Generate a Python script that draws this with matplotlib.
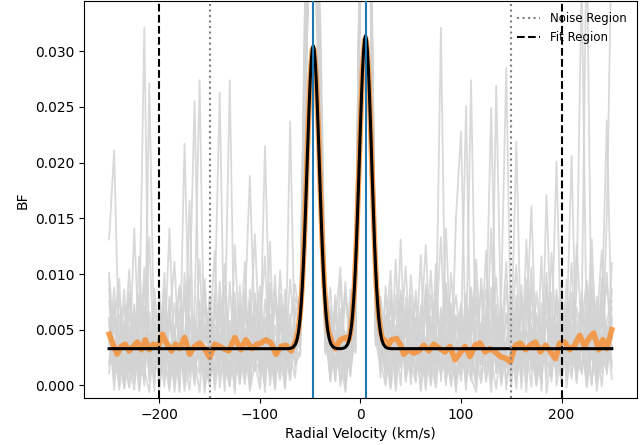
import numpy as np
import matplotlib
matplotlib.use("Agg")
import matplotlib.pyplot as plt

# velocity grid of the individual broadening functions (km/s)
gray_v = np.arange(-250, 251, 5)

# individual BFs, in units of 1e-4
gray_rows = [
    [131, 211, 26, -1, 53, 8, 81, 15, -6, 42, 19, 66, 3, 35, -3, 101, 24, 10, 49, -7,
     38, 6, 73, 17, 0, 57, 29, 111, -5, 20, 46, 2, 64, 12, 31, -2, 237, 21, 55, 301,
     411, 441, 221, 51, 9, 76, 18, -4, 40, 63, 421, 461, 391, 57, 22, 0, 86, 13, 131, 5,
     27, 61, -5, 43, 16, 109, 4, 52, -1, 34, 18, 79, 7, -6, 48, 25, 141, 11, 62, 2,
     36, -3, 90, 21, 55, 9, 116, -7, 30, 71, 14, 49, 206, 5, 38, 0, 67, 24, 96, 10, 51],
    [61, 3, 37, 86, 19, -4, 52, 321, 8, 75, 0, 29, 141, 13, 48, 5, 62, 22, -6, 57,
     16, 83, -2, 40, 9, 126, 32, 1, 59, 20, -3, 45, 24, 99, 6, 68, 14, 34, 26, 251,
     451, 391, 291, 79, 3, 50, 27, 93, 15, 46, 381, 491, 431, 81, 33, 11, 58, -5, 44, 107,
     19, 4, 72, 28, 0, 39, 321, 12, 65, 7, 51, -4, 88, 23, 37, 121, 2, 60, 17, 31,
     -1, 77, 10, 49, 26, 63, -5, 101, 21, 42, 6, 54, 18, 87, 371, 35, 1, 73, 28, 13, 86],
    [21, 69, -4, 32, 104, 11, 47, 0, 271, 28, 53, 7, 80, -6, 39, 18, 166, 4, 61, 26,
     2, 48, 15, 89, 31, -3, 74, 10, 43, 136, 27, -1, 56, 19, 82, 36, 5, 63, 81, 321,
     381, 461, 191, 31, 67, 4, 95, 29, 13, 86, 451, 411, 361, 39, 66, 24, -2, 113, 19, 51,
     8, 85, 33, -4, 57, 14, 70, 27, 2, 151, 228, 21, 45, 79, 5, 38, -6, 64, 30, 90,
     16, 52, 3, 131, 35, 0, 74, 22, 47, 9, 91, -2, 39, 17, 61, 411, 26, 4, 82, 33, 21],
    [46, 9, 83, 22, -2, 59, 15, 106, 31, 3, 68, 26, -5, 49, 12, 217, 37, 0, 76, 21,
     43, 121, 7, 29, 54, -7, 90, 18, 39, 62, 5, 77, 33, -4, 58, 20, 95, 42, 36, 241,
     431, 411, 251, 61, 25, 81, -1, 48, 10, 51, 401, 441, 451, 76, 14, 47, 103, 6, 61, 23,
     81, 32, -3, 91, 20, 54, 8, 141, 29, -2, 46, 251, 15, 72, 34, 3, 59, 97, 21, 40,
     65, 12, 48, -6, 87, 28, 53, 7, 119, 35, 2, 74, 23, 58, 10, 46, 131, 17, 65, 238, 41],
    [101, 35, 0, 58, 14, 141, 27, 71, 4, 49, 17, 86, 32, -2, 53, 10, 79, 255, 23, 39,
     61, -4, 30, 109, 15, 46, 1, 67, 25, 83, 34, 11, 129, 3, 49, 72, 18, 55, 51, 361,
     471, 371, 211, 41, 88, 15, 52, 6, 74, 31, 471, 431, 371, 43, 76, 2, 38, 20, 85, 9,
     54, 26, 117, -1, 62, 35, 13, 91, 44, -6, 70, 32, 274, 8, 51, 86, 24, -3, 39, 111,
     5, 61, 29, 82, 15, 49, 1, 171, 33, 57, 22, 95, 9, 43, 77, -2, 35, 64, 16, 151, 411],
    [11, 54, 96, 5, 30, 73, -4, 38, 16, 87, 34, -1, 57, 111, 21, 42, 8, 65, 274, 2,
     80, 27, 48, -5, 93, 19, 37, 6, 74, 29, 51, 116, 0, 39, 13, 86, 28, 7, 71, 271,
     401, 451, 331, 86, 46, 4, 69, 33, 41, 56, 361, 471, 411, 91, 31, 64, 17, 46, 0, 79,
     35, 10, 53, 126, 22, -2, 48, 75, 14, 61, 27, 83, 4, 40, 19, 57, 249, 31, 72, -4,
     49, 108, 18, 33, -1, 65, 30, 87, 9, 43, 77, 13, 51, 2, 84, 27, 58, -5, 36, 101, 16],
    [76, 21, 43, -2, 65, 31, 9, 90, 24, 53, -4, 48, 15, 74, 36, 1, 60, 29, 113, 11,
     27, 69, 263, 6, 41, 83, 12, 34, -3, 55, 89, 23, 46, 8, 103, 31, 64, 17, 31, 231,
     441, 421, 201, 56, 19, 58, 106, -6, 63, 36, 441, 451, 381, 49, 61, 29, 5, 81, 38, 16,
     99, 46, 20, 67, 3, 88, 31, 9, 56, 22, 74, 0, 39, 113, 28, 61, 6, 269, 45, 17,
     32, 81, -3, 54, 161, 19, 41, 72, 3, 86, 49, 26, 110, 11, 33, 66, 0, 53, 121, 24, 61],
    [36, 88, 7, 49, -1, 24, 116, 12, 57, -5, 83, 18, 39, 2, 70, 27, -4, 51, 34, 96,
     9, 55, 24, 41, 274, 3, 61, 20, 86, 13, 66, -6, 92, 28, 17, 50, 5, 79, 66, 281,
     391, 481, 271, 36, 71, 22, 41, 13, 86, 29, 411, 481, 441, 63, 7, 89, 25, 54, 16, 68,
     1, 57, 33, 86, 11, 46, 133, 24, 72, 37, 10, 63, 28, -1, 96, 35, 51, 16, 81, 285,
     21, 44, 67, 13, 106, 0, 34, 59, 26, 79, 53, 4, 72, 31, 15, 91, 43, 8, 60, 27, 36],
    [56, -4, 64, 19, 40, 3, 78, 27, 133, 10, 29, 101, -2, 43, 87, 16, 32, 6, 55, 22,
     0, 36, 79, 12, 51, 25, 3, 68, 188, 39, 17, 61, 10, 84, 36, -3, 49, 29, 41, 261,
     461, 401, 231, 71, 5, 43, 21, 79, 52, 101, 391, 421, 401, 36, 49, 18, 76, 1, 35, 54,
     69, 15, 42, 7, 81, 28, 52, 0, 101, 43, 16, 38, 69, 24, 2, 50, 88, 31, 9, 63,
     39, 219, 21, 96, 46, 6, 61, 18, 83, 0, 31, 67, 19, 126, 46, 11, 86, 35, -1, 58, 76],
    [86, 17, 51, 4, 79, 38, -5, 62, 21, 47, 7, 74, 26, 53, -6, 88, 14, 46, 31, 69,
     41, 12, 93, 30, -1, 63, 19, 52, 8, 76, 24, 215, 38, 3, 71, 15, 57, 91, 56, 351,
     421, 441, 311, 46, 13, 66, 31, 0, 51, 91, 431, 461, 351, 101, 56, 21, 43, 9, 71, 30,
     46, 76, 12, 35, 103, 17, 61, 3, 49, 81, 32, 7, 57, 94, 19, 71, 26, 48, 0, 37,
     61, 25, 79, 3, 52, 37, 14, 91, 42, 201, 18, 49, 83, 5, 63, 29, 109, 40, 11, 54, 6],
    [96, 12, 44, -3, 27, 68, 5, 39, 18, 57, 2, 33, 71, 10, 48, -5, 25, 62, 14, 41,
     77, 6, 30, 52, 1, 44, 19, 86, 8, 35, 58, 16, 40, -2, 69, 28, 11, 47, 36, 290,
     441, 461, 261, 44, 7, 38, 64, 18, 29, 72, 421, 471, 411, 54, 25, 62, -3, 37, 81, 12,
     45, 3, 66, 21, 39, 8, 55, 30, 74, -1, 28, 59, 14, 42, 87, 6, 33, 50, 19, 65,
     9, 38, 73, 16, 47, 24, 3, 60, 36, 12, 53, 29, 6, 70, 41, 17, 88, 2, 46, 31, 70],
    [40, 74, 8, 55, 33, 2, 81, 26, 47, 14, 63, 20, 4, 45, 90, 31, 12, 56, 37, -2,
     24, 67, 41, 9, 58, 16, 72, 34, 3, 50, 13, 42, 85, 26, 5, 61, 38, 20, 29, 330,
     471, 431, 241, 33, 52, 11, 27, 83, 40, 58, 391, 481, 421, 72, 47, 14, 36, 69, 22, 54,
     10, 51, 27, 80, 5, 43, 18, 62, 34, 48, 71, 15, 39, 4, 56, 30, 77, 11, 45, 24,
     60, 2, 35, 49, 13, 84, 41, 26, 7, 52, 19, 66, 37, 8, 55, 94, 23, 40, 75, 13, 110],
    [18, 53, 30, 72, 11, 46, 24, 4, 66, 35, 49, 7, 58, 28, 16, 79, 42, 22, 10, 88,
     6, 39, 17, 63, 32, 75, 2, 48, 27, 13, 82, 31, 7, 54, 20, 44, 13, 70, 48, 300,
     431, 451, 281, 28, 60, 42, 3, 34, 71, 44, 441, 451, 381, 40, 18, 80, 51, 8, 39, 66,
     25, 60, 14, 38, 57, 1, 46, 92, 15, 37, 4, 43, 85, 23, 30, 62, 9, 47, 68, 16,
     34, 56, 11, 75, 28, 3, 52, 20, 44, 78, 6, 40, 55, 21, 12, 63, 31, 80, 28, 47, 35],
    [60, 28, 3, 41, 84, 19, 50, 67, 9, 30, 36, 55, 24, 3, 66, 40, 97, 8, 49, 26,
     43, 1, 61, 29, 14, 50, 36, 7, 70, 22, 12, 58, 26, 73, 37, 9, 52, 31, 58, 280,
     451, 441, 221, 70, 33, 15, 55, 46, 8, 80, 411, 461, 391, 62, 80, 29, 10, 48, 58, 3,
     67, 32, 49, 11, 24, 70, 36, 5, 41, 63, 38, 22, 6, 58, 40, 17, 45, 72, 3, 33,
     86, 17, 45, 30, 66, 39, 14, 35, 61, 25, 44, 12, 70, 33, 48, 5, 39, 24, 58, 90, 55],
]

# smoothed BF (orange), units of 1e-4
smooth_v = [-250, -246, -242, -238, -234, -230, -226, -222, -218, -214, -210, -206, -201, -197,
            -193, -188, -184, -180, -175, -170, -165, -160, -155, -150, -145, -140, -136, -131,
            -125, -119, -114, -108, -103, -99, -94, -89, -84, -79, -74, -69, -66, -64, -62, -60,
            -58, -56, -54, -52, -50, -48, -47, -46, -44, -42, -40, -38, -36, -34, -32, -30, -28,
            -25, -20, -15, -12, -10, -8, -6, -4, -2, 0, 2, 4, 5, 6, 8, 10, 12, 14, 16, 18, 20,
            22, 24, 27, 31, 36, 40, 43, 48, 53, 58, 63, 68, 73, 79, 84, 89, 94, 99, 104, 109,
            114, 119, 124, 129, 134, 139, 145, 149, 154, 159, 164, 169, 174, 179, 184, 189, 194,
            198, 203, 208, 213, 218, 223, 227, 232, 237, 241, 245, 250]
smooth_bf = [46, 37, 28, 35, 37, 31, 35, 39, 32, 41, 32, 37, 35, 46,
             38, 31, 37, 33, 43, 28, 35, 38, 33, 25, 37, 35, 33, 31,
             43, 32, 41, 33, 37, 38, 41, 38, 28, 35, 36, 31, 37, 41, 49, 64,
             89, 128, 177, 231, 276, 301, 303, 300, 275, 231, 178, 129, 90, 65, 49, 43, 38,
             33, 41, 43, 40, 47, 63, 89, 129, 181, 236, 283, 309, 312, 308, 281, 234, 179, 128, 88, 63, 49,
             41, 41, 35, 41, 42, 36, 28, 32, 29, 31, 36, 31, 37, 33, 30, 35, 23, 29, 35, 26,
             36, 38, 30, 33, 30, 26, 24, 21, 36, 38, 32, 36, 39, 30, 36, 30, 24,
             38, 39, 32, 36, 45, 35, 42, 47, 32, 41, 33, 50]

# double-Gaussian fit (black), units of 1e-4
fit_v = [-250, -72, -69, -67, -65, -64, -63, -62, -61, -60, -59, -58, -57, -56, -55, -54, -53,
         -52, -51, -50, -49, -48, -47, -46, -45, -44, -43, -42, -41, -40, -39, -38, -37, -36,
         -35, -34, -33, -32, -31, -30, -29, -27, -25, -22,
         -20, -17, -15, -13, -12, -11, -10, -9, -8, -7, -6, -5, -4, -3, -2, -1, 0, 1, 2, 3, 4,
         5, 6, 7, 8, 9, 10, 11, 12, 13, 14, 15, 16, 17, 18, 19, 20, 21, 22, 23, 25, 27, 30, 250]
fit_bf = [33, 33, 33.4, 34.3, 36.5, 38.6, 41.7, 46.2, 52.5, 61.1, 72.3, 86.5, 104, 124.6, 148.1,
          173.8, 200.7, 227.4, 252.4, 274, 290.8, 301.4, 305, 301.4, 290.8, 274, 252.4, 227.4,
          200.7, 173.8, 148.1, 124.6, 104, 86.5, 72.3, 61.1, 52.5, 46.2, 41.7, 38.6, 36.5, 34.3,
          33.4, 33,
          33, 33.4, 34.3, 36.6, 38.8, 42, 46.7, 53.2, 62, 73.6, 88.3, 106.3, 127.6, 151.9, 178.5,
          206.2, 233.8, 259.6, 282, 299.3, 310.3, 314, 310.3, 299.3, 282, 259.6, 233.8, 206.2,
          178.5, 151.9, 127.6, 106.3, 88.3, 73.6, 62, 53.2, 46.7, 42, 38.8, 36.6, 34.3, 33.4, 33, 33]

peak_centres = [-47, 5]
noise_edges = [-150, 150]
fit_edges = [-200, 200]

fig = plt.figure(figsize=(6.44, 4.45), dpi=100)
ax = fig.add_axes([0.1304, 0.1056, 0.8587, 0.8913])

for row in gray_rows:
    ax.plot(gray_v, np.array(row) * 1e-4, color="#d3d3d3", alpha=0.85, lw=1.3, zorder=1)

ax.plot(smooth_v, np.array(smooth_bf) * 1e-4, color="C1", alpha=0.68, lw=4, zorder=2)
ax.plot(fit_v, np.array(fit_bf) * 1e-4, color="k", lw=2.2, zorder=3)

for c in peak_centres:
    ax.axvline(c, color="C0", lw=1.5, zorder=5)

ax.axvline(noise_edges[0], color="grey", ls=":", lw=1.5, label="Noise Region", zorder=4)
ax.axvline(noise_edges[1], color="grey", ls=":", lw=1.5, zorder=4)
ax.axvline(fit_edges[0], color="k", ls="--", lw=1.5, label="Fit Region", zorder=4)
ax.axvline(fit_edges[1], color="k", ls="--", lw=1.5, zorder=4)

ax.set_xlim(-275, 275)
ax.set_ylim(-0.00113, 0.03448)
ax.set_xlabel("Radial Velocity (km/s)")
ax.set_ylabel("BF")
ax.legend(loc="upper right", frameon=False, fontsize=8.5)

fig.savefig("out.png", dpi=100)
